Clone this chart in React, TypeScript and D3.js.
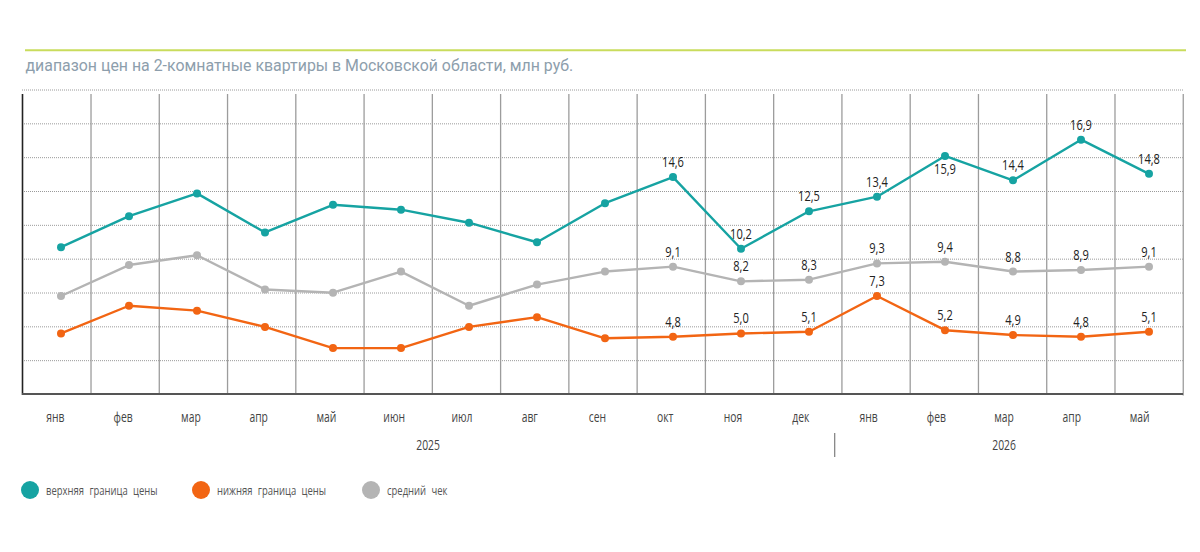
import React from 'react';
import * as d3 from 'd3';

const months = ['янв', 'фев', 'мар', 'апр', 'май', 'июн', 'июл', 'авг', 'сен', 'окт', 'ноя', 'дек', 'янв', 'фев', 'мар', 'апр', 'май'];
const years = [
  { label: '2025', first: 0, last: 11 },
  { label: '2026', first: 12, last: 16 },
];
const upper = [10.3, 12.2, 13.6, 11.2, 12.9, 12.6, 11.8, 10.6, 13.0, 14.6, 10.2, 12.5, 13.4, 15.9, 14.4, 16.9, 14.8];
const average = [7.3, 9.2, 9.8, 7.7, 7.5, 8.8, 6.7, 8.0, 8.8, 9.1, 8.2, 8.3, 9.3, 9.4, 8.8, 8.9, 9.1];
const lower = [5.0, 6.7, 6.4, 5.4, 4.1, 4.1, 5.4, 6.0, 4.7, 4.8, 5.0, 5.1, 7.3, 5.2, 4.9, 4.8, 5.1];
const labelFrom = 9;
const labelBelow = [{ series: 'upper', index: 13 }];

const seriesList = [
  { key: 'upper', name: 'верхняя граница цены', values: upper, color: '#16a3a2' },
  { key: 'lower', name: 'нижняя граница цены', values: lower, color: '#f26513' },
  { key: 'average', name: 'средний чек', values: average, color: '#b4b4b4' },
];

const TITLE = 'диапазон цен на 2-комнатные квартиры в Московской области, млн руб.';
const NARROW = "'Open Sans', sans-serif";
const SX = 0.74;

function NText(props: { x: number; y: number; size: number; anchor?: string; fill?: string; ws?: number; children: React.ReactNode }) {
  const { x, y, size, anchor = 'start', fill = '#333', ws = 0, children } = props;
  return (
    <text transform={`translate(${x},${y}) scale(${SX},1)`} textAnchor={anchor as any}
      fontFamily={NARROW} fontSize={size} fill={fill} wordSpacing={ws}>{children}</text>
  );
}

export default function App() {
  const W = 1200, H = 552;
  const idx = months.map((_, i) => i);
  const gridX = d3.scaleBand<number>().domain(idx).range([22.75, 1183.25]);
  const labelX = d3.scaleBand<number>().domain(idx).range([21.5, 1173.5]);
  const px = d3.scalePoint<number>().domain(idx).range([61, 1149]);
  const y = d3.scaleLinear().domain([1.25, 19.95]).range([394.5, 90]);
  const gridVals = d3.range(1, 10).map((k) => 1.25 + (k * (19.95 - 1.25)) / 9);
  const fmt = (v: number) => v.toFixed(1).replace('.', ',');

  return (
    <svg width={W} height={H} style={{ position: 'absolute', left: 0, top: 0, background: '#fff' }}>
      <line x1={25} x2={1186} y1={50.3} y2={50.3} stroke="#c9dc5c" strokeWidth={2} />
      <text x={25.5} y={70.5} fontFamily="Roboto, sans-serif" fontSize={15.9} fill="#8d9eac">{TITLE}</text>

      {gridVals.map((v, i) => (
        <line key={'h' + i} x1={22} x2={1183} y1={y(v)} y2={y(v)} stroke="#9a9a9a" strokeWidth={1} strokeDasharray="1,1" />
      ))}
      {idx.slice(1).map((i) => (
        <line key={'v' + i} x1={gridX(i)!} x2={gridX(i)!} y1={94} y2={395} stroke="#9c9c9c" strokeWidth={1.3} />
      ))}
      <line x1={1183.25} x2={1183.25} y1={94} y2={395.5} stroke="#9c9c9c" strokeWidth={1.3} />
      <line x1={22.5} x2={22.5} y1={94} y2={395} stroke="#222" strokeWidth={1.6} />
      <line x1={22} x2={1183} y1={394} y2={394} stroke="#555" strokeWidth={2} />

      {seriesList.map((s) => {
        const line = d3.line<number>().x((_, i) => px(i)!).y((v) => y(v));
        return (
          <g key={s.key}>
            <path d={line(s.values) || ''} fill="none" stroke={s.color} strokeWidth={2.4} strokeLinejoin="round" />
            {s.values.map((v, i) => (
              <circle key={i} cx={px(i)!} cy={y(v)} r={4} fill={s.color} />
            ))}
          </g>
        );
      })}

      {seriesList.map((s) =>
        s.values.map((v, i) => {
          if (i < labelFrom) return null;
          const below = labelBelow.some((b) => b.series === s.key && b.index === i);
          return (
            <NText key={s.key + 'l' + i} x={px(i)!} y={y(v) + (below ? 18 : -10)} anchor="middle" size={15} fill="#222">{fmt(v)}</NText>
          );
        })
      )}

      {months.map((m, i) => (
        <NText key={'m' + i} x={labelX(i)! + labelX.bandwidth() / 2} y={422} anchor="middle" size={14} fill="#444">{m}</NText>
      ))}
      {years.map((yr) => {
        const x0 = labelX(yr.first)!;
        const x1 = labelX(yr.last)! + labelX.bandwidth();
        return (
          <NText key={yr.label} x={(x0 + x1) / 2} y={450} anchor="middle" size={14} fill="#444">{yr.label}</NText>
        );
      })}
      <line x1={labelX(12)!} x2={labelX(12)!} y1={433} y2={457} stroke="#888" strokeWidth={1.3} />

      {seriesList.map((s, k) => {
        const cx = [30, 201, 371][k];
        return (
          <g key={'lg' + s.key}>
            <circle cx={cx} cy={490} r={9} fill={s.color} />
            <NText x={cx + 16} y={494.5} size={12.8} ws={4} fill="#555">{s.name}</NText>
          </g>
        );
      })}
    </svg>
  );
}
